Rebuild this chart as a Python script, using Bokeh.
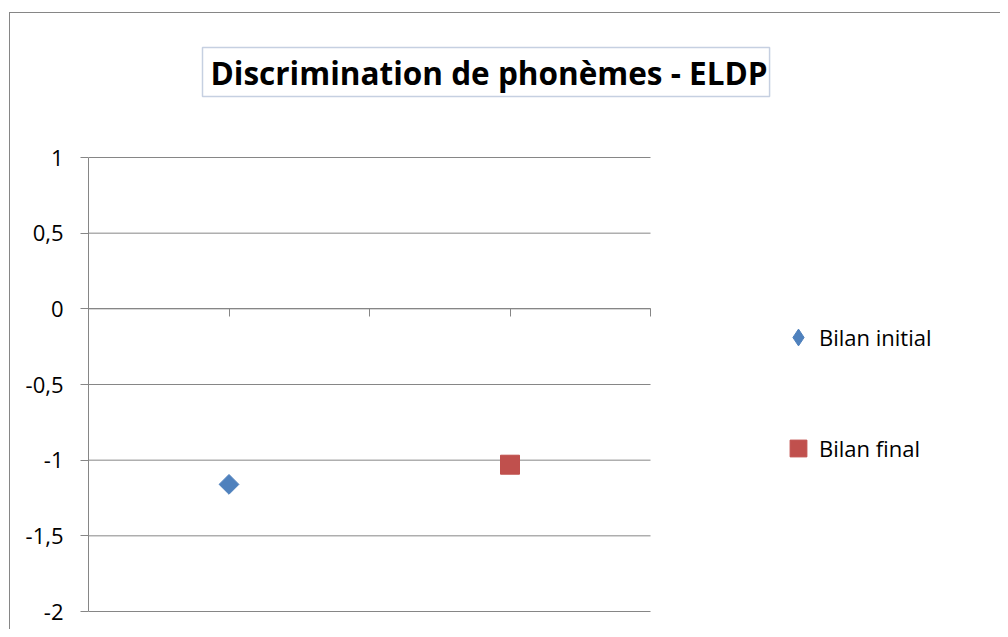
import math
from bokeh.plotting import figure
from bokeh.models import Range1d, LinearAxis, FixedTicker, Legend, LegendItem, Label
from bokeh.embed import file_html
from bokeh.resources import INLINE

# ---- data ----
series = ["Bilan initial", "Bilan final"]
x_positions = [1, 3]
values = [-1.16, -1.03]
y_ticks = [-2.0, -1.5, -1.0, -0.5, 0.0, 0.5, 1.0]
y_tick_labels = ["-2", "-1,5", "-1", "-0,5", "0", "0,5", "1"]
x_ticks = [0, 1, 2, 3, 4]
title_text = "Discrimination de phonèmes - ELDP"

# ---- style / layout ----
GRID = "#868686"
BLUE = "#4F81BD"
RED = "#C0504D"
FONT = "Open Sans"

X0, X1 = 0, 4          # plot-area x extent (data)
Y0, Y1 = -2, 1         # plot-area y extent (data)
AREA_W, AREA_H = 562, 454   # plot-area size in px
PX_X = AREA_W / (X1 - X0)
PX_Y = AREA_H / (Y1 - Y0)

CANVAS_W, CANVAS_H = 990, 616
LEFT = 78              # left panel (axis) width
FRAME_W = CANVAS_W - LEFT
AREA_TOP = 144         # plot-area top, px from canvas top
FRAME_H = 603
BOTTOM = CANVAS_H - FRAME_H

y_end = Y1 + AREA_TOP / PX_Y
x_range = Range1d(X0, X0 + FRAME_W / PX_X)
y_range = Range1d(y_end - FRAME_H / PX_Y, y_end)

p = figure(
    frame_width=FRAME_W, frame_height=FRAME_H,
    x_range=x_range, y_range=y_range,
    x_axis_type=None, y_axis_type=None,
    output_backend="svg", toolbar_location=None,
    min_border_left=LEFT, min_border_top=0, min_border_right=0, min_border_bottom=BOTTOM,
    outline_line_color=None, background_fill_color="white", border_fill_color="white",
    margin=(12, 0, 0, 9),
    styles={"border-left": f"1px solid {GRID}", "border-top": f"1px solid {GRID}"},
)

yaxis = LinearAxis(
    ticker=FixedTicker(ticks=y_ticks), bounds=(Y0, Y1),
    major_label_overrides=dict(zip(y_ticks, y_tick_labels)),
    axis_line_color=GRID, major_tick_line_color=GRID,
    major_tick_out=8, major_tick_in=0, minor_tick_line_color=None,
    major_label_standoff=17,
    major_label_text_font=FONT, major_label_text_font_size="22px",
    major_label_text_color="black",
)
p.add_layout(yaxis, "left")

# horizontal gridlines across the plot area only
p.segment(x0=[X0] * len(y_ticks), x1=[X1] * len(y_ticks), y0=y_ticks, y1=y_ticks,
          line_color=GRID, line_width=1)

xaxis = LinearAxis(
    fixed_location=0, bounds=(X0, X1),
    ticker=FixedTicker(ticks=x_ticks),
    axis_line_color=GRID, major_tick_line_color=GRID,
    major_tick_out=8, major_tick_in=0, minor_tick_line_color=None,
    major_label_standoff=0,
    major_label_overrides={t: "" for t in x_ticks},
)
p.add_layout(xaxis, "below")

r1 = p.scatter(x=[x_positions[0]], y=[values[0]], marker="square", size=14,
               angle=math.pi / 4, fill_color=BLUE, line_color=BLUE)
r2 = p.scatter(x=[x_positions[1]], y=[values[1]], marker="square", size=19,
               fill_color=RED, line_color=RED)
# legend proxy for the diamond symbol (legend glyphs ignore marker angle)
r1_key = p.scatter(x=[x_positions[0]], y=[values[0]], marker="diamond", size=14,
                   fill_color=BLUE, line_color=BLUE, visible=False)

common = dict(padding=0, margin=0, border_line_color=None, background_fill_alpha=0,
              label_text_font=FONT, label_text_font_size="22px", label_text_color="black",
              label_standoff=0, label_height=30, glyph_width=42, glyph_height=42)
leg1 = Legend(items=[LegendItem(label=series[0], renderers=[r1_key])], location=(689, 258),
              **common)
leg2 = Legend(items=[LegendItem(label=series[1], renderers=[r2])], location=(689, 147),
              **common)
p.add_layout(leg1)
p.add_layout(leg2)

title = Label(
    x=X0 + 114 / PX_X, y=Y1 + 110 / PX_Y,
    text=title_text, text_font=FONT, text_font_style="bold", text_font_size="31.5px",
    text_align="left", text_baseline="top", text_color="black",
    border_line_color="#c6d0e1", border_line_width=1.5, background_fill_color="white",
    padding=dict(left=8, right=2, top=3, bottom=3),
)
p.add_layout(title)

open("out.html", "w").write(file_html(p, INLINE))
